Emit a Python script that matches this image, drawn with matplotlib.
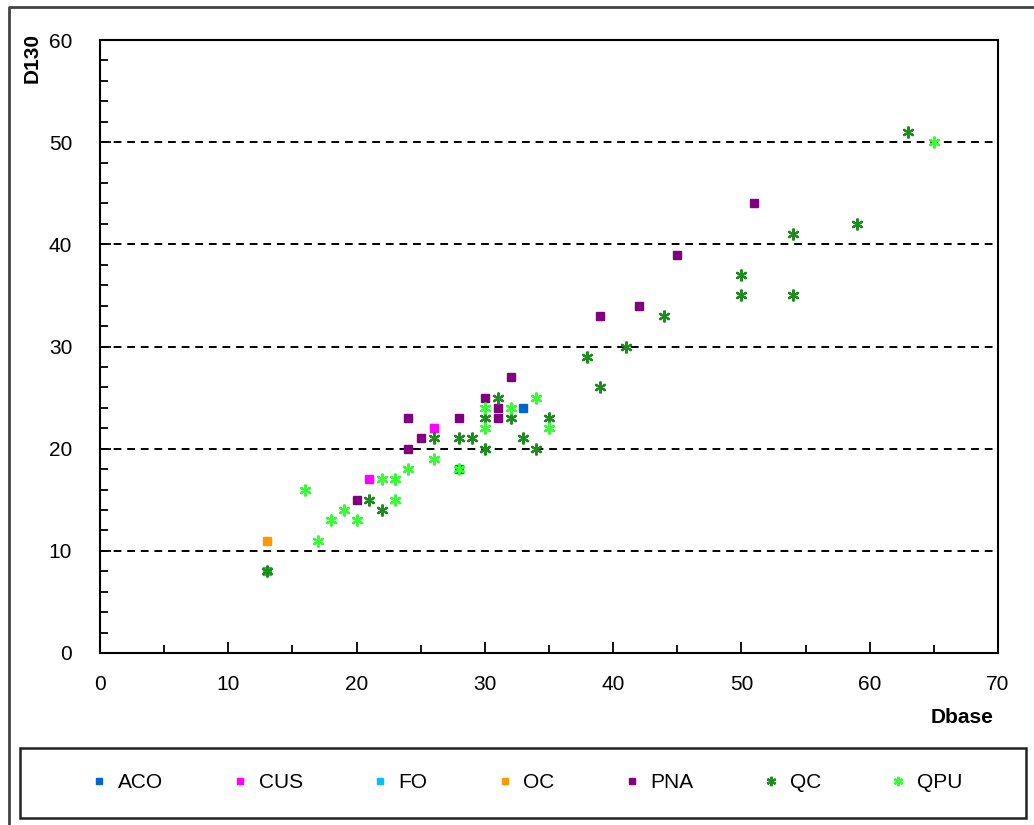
import matplotlib
matplotlib.use("Agg")
import matplotlib.pyplot as plt
from matplotlib.patches import Rectangle
from matplotlib.lines import Line2D
from matplotlib.ticker import MultipleLocator

plt.rcParams['font.family'] = ['Liberation Sans Narrow', 'Liberation Sans', 'DejaVu Sans']

# data
aco_x = [28, 33]
aco_y = [18, 24]
cus_x = [21, 26]
cus_y = [17, 22]
fo_x = [13]
fo_y = [8]
oc_x = [13]
oc_y = [11]
pna_x = [20, 24, 24, 25, 28, 30, 31, 31, 32, 39, 42, 45, 51]
pna_y = [15, 23, 20, 21, 23, 25, 24, 23, 27, 33, 34, 39, 44]
qc_x = [13, 21, 22, 26, 28, 29, 30, 30, 31, 32, 33, 34, 35, 38, 39, 41, 44, 50, 50, 54, 54, 59, 63]
qc_y = [8, 15, 14, 21, 21, 21, 20, 23, 25, 23, 21, 20, 23, 29, 26, 30, 33, 37, 35, 41, 35, 42, 51]
qpu_x = [16, 17, 18, 19, 20, 22, 23, 23, 24, 26, 28, 30, 30, 32, 34, 35, 65]
qpu_y = [16, 11, 13, 14, 13, 17, 17, 15, 18, 19, 18, 24, 22, 24, 25, 22, 50]

fig = plt.figure(figsize=(10.34, 8.25), dpi=100)
ax = fig.add_axes([0.0967, 0.2085, 0.8685, 0.743])

sq = dict(marker='s', linestyle='none', markersize=5.5)
st = dict(marker=(6, 2, 0), linestyle='none', markersize=8.5, markeredgewidth=1.6)

ax.plot(fo_x, fo_y, color='#00BFFF', label='FO', zorder=3, **sq)
ax.plot(aco_x, aco_y, color='#0066CC', label='ACO', zorder=3, **sq)
ax.plot(cus_x, cus_y, color='#FF00FF', label='CUS', zorder=3, **sq)
ax.plot(oc_x, oc_y, color='#FF9900', label='OC', zorder=3, **sq)
ax.plot(pna_x, pna_y, color='#800080', label='PNA', zorder=3, **sq)
ax.plot(qc_x, qc_y, color='#1E8C1E', label='QC', zorder=4, **st)
ax.plot(qpu_x, qpu_y, color='#33FF33', label='QPU', zorder=4, **st)

ax.set_xlim(0, 70)
ax.set_ylim(0, 60)
ax.xaxis.set_major_locator(MultipleLocator(10))
ax.xaxis.set_minor_locator(MultipleLocator(5))
ax.yaxis.set_major_locator(MultipleLocator(10))
ax.yaxis.set_minor_locator(MultipleLocator(2))
ax.tick_params(which='both', direction='in', width=1.3, labelsize=15)
ax.tick_params(which='major', length=8)
ax.tick_params(which='minor', length=6)
ax.tick_params(axis='x', which='major', pad=16)
ax.tick_params(axis='y', which='major', pad=20)

for s in ax.spines.values():
    s.set_linewidth(1.5)

for g in [10, 20, 30, 40, 50]:
    ax.axhline(g, color='black', linestyle=(0, (4, 3)), linewidth=1.4, zorder=1)

ax.set_xlabel('Dbase', fontsize=15, fontweight='bold')
ax.xaxis.set_label_coords(0.96, -0.09)
ax.set_ylabel('D130', fontsize=15, fontweight='bold')
ax.yaxis.set_label_coords(-0.065, 0.97)

# legend in a box below the plot
handles, labels = ax.get_legend_handles_labels()
order = ['ACO', 'CUS', 'FO', 'OC', 'PNA', 'QC', 'QPU']
hs = [handles[labels.index(o)] for o in order]
leg = fig.legend(hs, order, ncol=7, loc='center', bbox_to_anchor=(0.508, 0.0515),
                 frameon=False, fontsize=15, markerscale=0.8, handlelength=1.0,
                 handletextpad=0.4, columnspacing=3.2)

fig.patches.append(Rectangle((20 / 1034, 1 - 818 / 825), 1006 / 1034, 70 / 825,
                             transform=fig.transFigure, fill=False,
                             edgecolor='#222222', linewidth=1.8))
fig.lines.append(Line2D([9 / 1034, 9 / 1034, 1.0], [0.0, 1 - 7 / 825, 1 - 7 / 825],
                        transform=fig.transFigure, color='#444444', linewidth=2))

fig.savefig('out.png', dpi=100)
